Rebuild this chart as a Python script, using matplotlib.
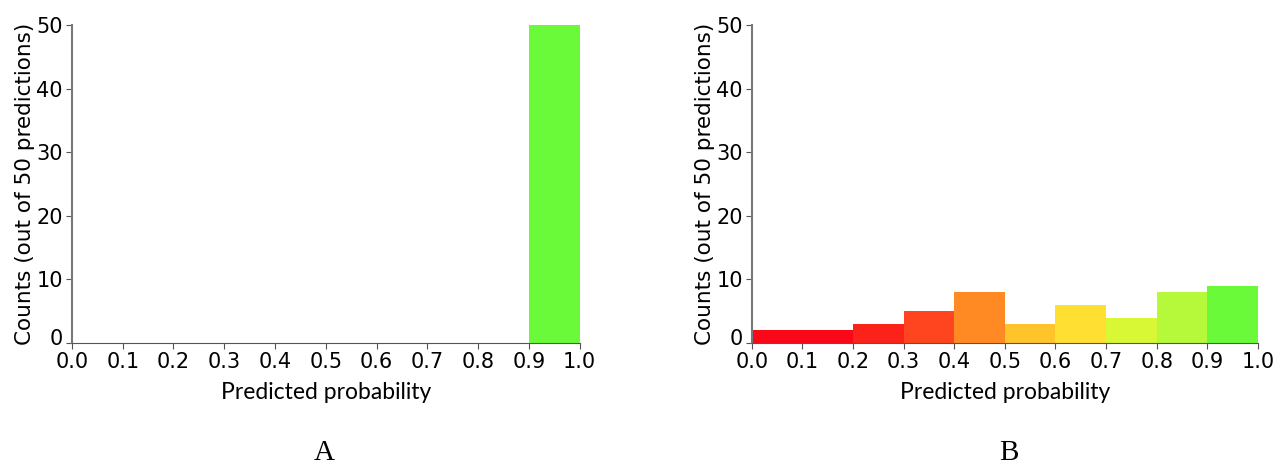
import numpy as np
import matplotlib.pyplot as plt
import matplotlib.transforms as mtransforms

plt.rcParams['font.family'] = 'DejaVu Sans'

bin_edges = [0.0, 0.1, 0.2, 0.3, 0.4, 0.5, 0.6, 0.7, 0.8, 0.9, 1.0]
counts_a = [0, 0, 0, 0, 0, 0, 0, 0, 0, 50]
counts_b = [2, 2, 3, 5, 8, 3, 6, 4, 8, 9]
bin_colors = ['#fa0718', '#fa0718', '#fa2219', '#ff4420', '#ff8a24',
              '#ffc42c', '#ffdf32', '#d8f836', '#b5f93a', '#6afa3a']
tick_vals = [0.0, 0.1, 0.2, 0.3, 0.4, 0.5, 0.6, 0.7, 0.8, 0.9, 1.0]
panel_names = ['A', 'B']

fig = plt.figure(figsize=(12.85, 4.66), dpi=100)
ax_a = fig.add_axes([0.056, 0.264, 0.395, 0.682])
ax_b = fig.add_axes([0.585, 0.264, 0.394, 0.682])

for ax, counts, name, xc in [(ax_a, counts_a, 'A', 0.252), (ax_b, counts_b, 'B', 0.785)]:
    left = np.array(bin_edges[:-1])
    ax.bar(left, counts, width=0.1, align='edge', color=bin_colors, linewidth=0)
    ax.set_xlim(0, 1)
    ax.set_ylim(0, 50)
    ax.set_xticks(tick_vals)
    ax.set_xticklabels(['%.1f' % t for t in tick_vals])
    ax.set_yticks([0, 10, 20, 30, 40, 50])
    ax.tick_params(labelsize=15, color='#555555', length=4)
    ax.tick_params(axis='x', pad=2.5)
    ax.tick_params(axis='y', pad=2.5)
    # nudge the "0" on the y axis up so it clears "0.0"
    lab0 = ax.get_yticklabels()[0]
    lab0.set_transform(lab0.get_transform() +
                       mtransforms.ScaledTranslation(0, 4 / 72, fig.dpi_scale_trans))
    for s in ['top', 'right']:
        ax.spines[s].set_visible(False)
    ax.spines['left'].set_color('#777777')
    ax.spines['bottom'].set_color('#555555')
    ax.spines['left'].set_linewidth(1.5)
    ax.set_xlabel('Predicted probability', fontsize=16.5, family='Lato', labelpad=7)
    ax.set_ylabel('Counts (out of 50 predictions)', fontsize=15.5, labelpad=1)
    fig.text(xc, 0.012, name, fontsize=21, family='Liberation Serif', ha='center')

fig.savefig('out.png', dpi=100)
